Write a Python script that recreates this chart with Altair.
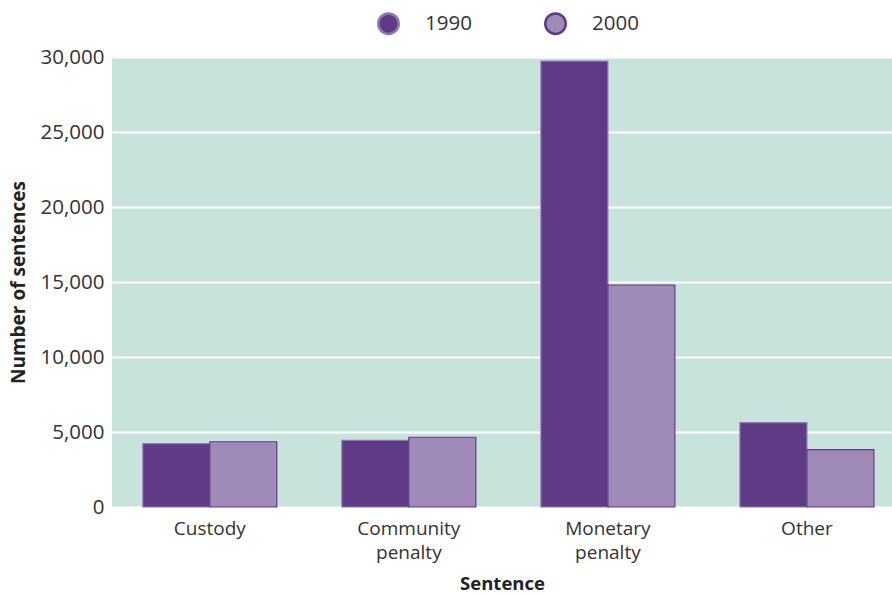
import altair as alt
import pandas as pd

categories = ["Custody", "Community penalty", "Monetary penalty", "Other"]
years = ["1990", "2000"]
values_1990 = [4230, 4450, 29730, 5620]
values_2000 = [4350, 4650, 14800, 3820]

rows = []
for c, a, b in zip(categories, values_1990, values_2000):
    rows.append({"Sentence": c, "Year": "1990", "Value": a})
    rows.append({"Sentence": c, "Year": "2000", "Value": b})
df = pd.DataFrame(rows)

FONT = "Open Sans"
DARK = "#5e3a87"
LIGHT = "#a08bb8"

chart = alt.Chart(df).mark_bar(strokeWidth=1.2).encode(
    x=alt.X("Sentence:N", sort=categories,
            scale=alt.Scale(paddingInner=0.327, paddingOuter=0.123, align=0.63),
            axis=alt.Axis(title="Sentence", labelAngle=0,
                          labelExpr="split(datum.label, ' ')",
                          labelLineHeight=24, labelPadding=12,
                          labelFontSize=19, labelColor="#333333",
                          labelFont=FONT, titleFont=FONT, titleFontSize=18.5,
                          titleFontWeight="bold", titleColor="#222222",
                          titlePadding=12, domain=False, ticks=False)),
    xOffset=alt.XOffset("Year:N", sort=years, scale=alt.Scale(paddingInner=0, paddingOuter=0)),
    y=alt.Y("Value:Q", scale=alt.Scale(domain=[0, 30000], nice=False),
            axis=alt.Axis(title="Number of sentences", values=[0, 5000, 10000, 15000, 20000, 25000, 30000],
                          format=",.0f", labelFontSize=20.5, labelColor="#333333",
                          labelFont=FONT, titleFont=FONT, titleFontSize=19,
                          titleFontWeight="bold", titleColor="#222222",
                          labelPadding=8, titlePadding=12,
                          domain=False, ticks=False, grid=True,
                          gridColor="white", gridWidth=2)),
    fill=alt.Fill("Year:N", sort=years, scale=alt.Scale(domain=years, range=[DARK, LIGHT]),
                  legend=alt.Legend(title=None, orient="none", direction="horizontal",
                                    legendX=265, legendY=-45, padding=0,
                                    symbolType="circle", symbolSize=420, symbolStrokeWidth=2.5,
                                    labelFontSize=20.5, labelFont=FONT, labelColor="#333333",
                                    labelOffset=25, columnPadding=68)),
    stroke=alt.Stroke("Year:N", sort=years, scale=alt.Scale(domain=years, range=["#8e78b0", DARK]),
                      legend=None),
).properties(
    width=780, height=450,
    background="white",
    padding={"left": 112, "top": 57, "right": 0, "bottom": 87},
    autosize=alt.AutoSizeParams(type="none"),
).configure_view(
    fill="#c8e3dc", stroke=None
)

chart.save("out.html", embed_options={"renderer": "svg", "actions": False})
